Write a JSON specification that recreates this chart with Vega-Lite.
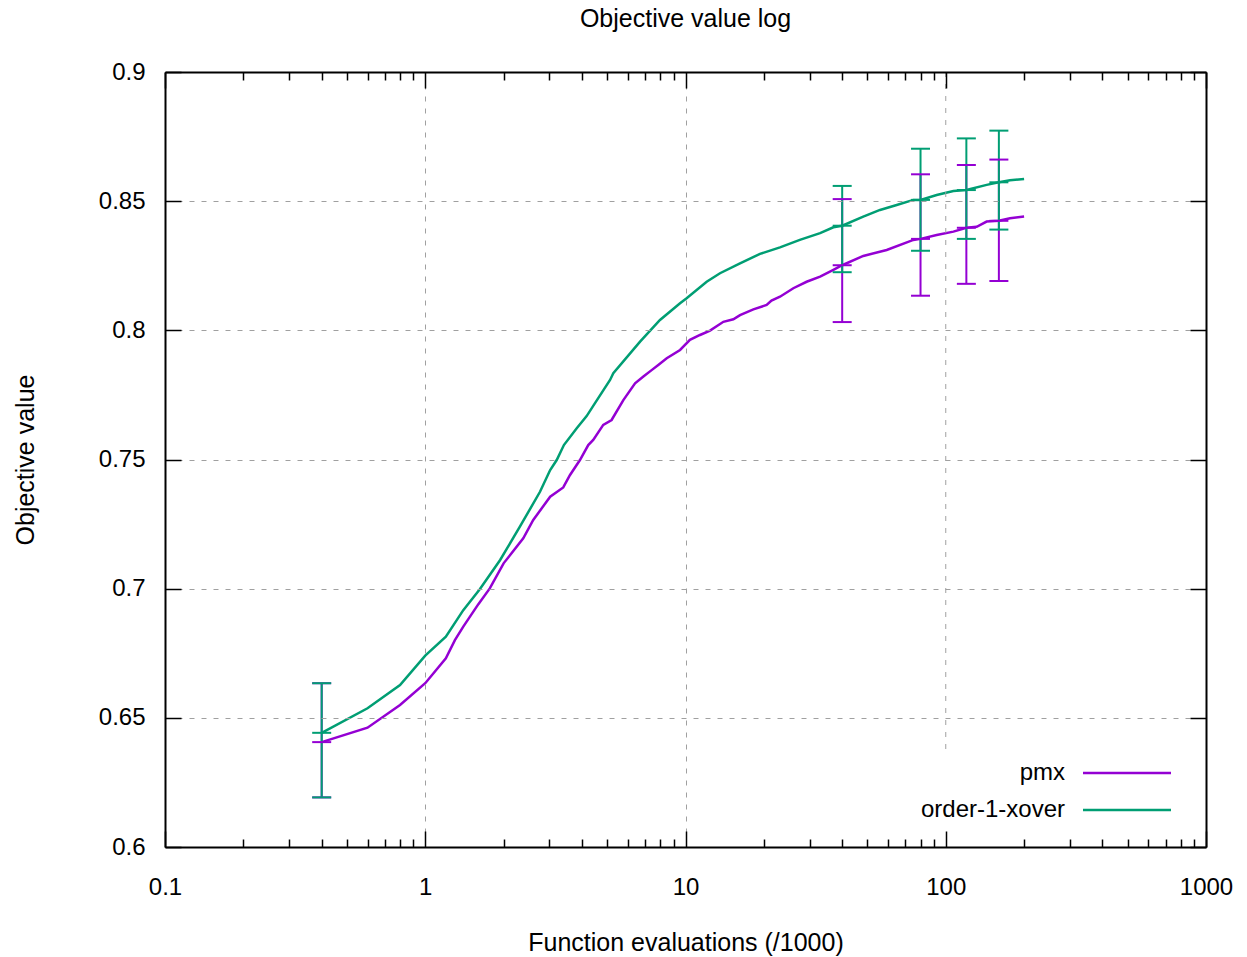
{
  "$schema": "https://vega.github.io/schema/vega-lite/v6.json",
  "width": 1041,
  "height": 775,
  "autosize": {"type": "none"},
  "padding": {"left": 165, "top": 72, "right": 41, "bottom": 110},
  "background": "white",
  "title": {"text": "Objective value log", "fontSize": 25, "font": "Liberation Sans", "fontWeight": "normal", "anchor": "middle", "baseline": "alphabetic", "offset": 42, "dy": 34, "frame": "group", "color": "black"},
  "config": {
    "font": "Liberation Sans",
    "view": {"stroke": null},
    "axis": {"labelFont": "Liberation Sans", "labelFontSize": 24, "labelColor": "black", "titleFont": "Liberation Sans", "titleFontSize": 25, "titleFontWeight": "normal", "titleColor": "black", "tickColor": "black", "tickWidth": 1.5, "domain": true, "domainColor": "black", "domainWidth": 2, "gridColor": "#a0a0a0", "gridDash": [5, 7], "gridWidth": 1}
  },
  "datasets": {
    "lines": [
      {"series": "pmx", "x": 0.4, "y": 0.6406},
      {"series": "pmx", "x": 0.6, "y": 0.6462},
      {"series": "pmx", "x": 0.8, "y": 0.655},
      {"series": "pmx", "x": 1.0, "y": 0.6634},
      {"series": "pmx", "x": 1.2, "y": 0.673},
      {"series": "pmx", "x": 1.3, "y": 0.6801},
      {"series": "pmx", "x": 1.4, "y": 0.6853},
      {"series": "pmx", "x": 1.6, "y": 0.6940},
      {"series": "pmx", "x": 1.77, "y": 0.7001},
      {"series": "pmx", "x": 2.0, "y": 0.7098},
      {"series": "pmx", "x": 2.38, "y": 0.7195},
      {"series": "pmx", "x": 2.6, "y": 0.7266},
      {"series": "pmx", "x": 3.02, "y": 0.7356},
      {"series": "pmx", "x": 3.39, "y": 0.7392},
      {"series": "pmx", "x": 3.6, "y": 0.744},
      {"series": "pmx", "x": 3.93, "y": 0.7498},
      {"series": "pmx", "x": 4.23, "y": 0.7556},
      {"series": "pmx", "x": 4.42, "y": 0.7576},
      {"series": "pmx", "x": 4.83, "y": 0.7634},
      {"series": "pmx", "x": 5.2, "y": 0.7653},
      {"series": "pmx", "x": 5.77, "y": 0.773},
      {"series": "pmx", "x": 6.4, "y": 0.7795},
      {"series": "pmx", "x": 6.89, "y": 0.7821},
      {"series": "pmx", "x": 7.41, "y": 0.7846},
      {"series": "pmx", "x": 7.86, "y": 0.7866},
      {"series": "pmx", "x": 8.47, "y": 0.7892},
      {"series": "pmx", "x": 9.53, "y": 0.7924},
      {"series": "pmx", "x": 10.4, "y": 0.7963},
      {"series": "pmx", "x": 11.37, "y": 0.7982},
      {"series": "pmx", "x": 12.42, "y": 0.7999},
      {"series": "pmx", "x": 13.98, "y": 0.8033},
      {"series": "pmx", "x": 15.27, "y": 0.8043},
      {"series": "pmx", "x": 16.2, "y": 0.8059},
      {"series": "pmx", "x": 18.23, "y": 0.8081},
      {"series": "pmx", "x": 20.5, "y": 0.8098},
      {"series": "pmx", "x": 21.4, "y": 0.8115},
      {"series": "pmx", "x": 23.07, "y": 0.813},
      {"series": "pmx", "x": 25.96, "y": 0.8163},
      {"series": "pmx", "x": 29.2, "y": 0.8188},
      {"series": "pmx", "x": 32.9, "y": 0.8208},
      {"series": "pmx", "x": 37.0, "y": 0.8234},
      {"series": "pmx", "x": 40, "y": 0.8252},
      {"series": "pmx", "x": 48.2, "y": 0.8288},
      {"series": "pmx", "x": 59.3, "y": 0.8311},
      {"series": "pmx", "x": 75.1, "y": 0.835},
      {"series": "pmx", "x": 80, "y": 0.8354},
      {"series": "pmx", "x": 92.3, "y": 0.8369},
      {"series": "pmx", "x": 107, "y": 0.8382},
      {"series": "pmx", "x": 120, "y": 0.8397},
      {"series": "pmx", "x": 131.5, "y": 0.8401},
      {"series": "pmx", "x": 143.6, "y": 0.8421},
      {"series": "pmx", "x": 160, "y": 0.8424},
      {"series": "pmx", "x": 176.6, "y": 0.8434},
      {"series": "pmx", "x": 200, "y": 0.8441},
      {"series": "order-1-xover", "x": 0.4, "y": 0.6442},
      {"series": "order-1-xover", "x": 0.6, "y": 0.6537},
      {"series": "order-1-xover", "x": 0.8, "y": 0.6627},
      {"series": "order-1-xover", "x": 1.0, "y": 0.6741},
      {"series": "order-1-xover", "x": 1.2, "y": 0.6814},
      {"series": "order-1-xover", "x": 1.4, "y": 0.6917},
      {"series": "order-1-xover", "x": 1.62, "y": 0.6998},
      {"series": "order-1-xover", "x": 1.94, "y": 0.7111},
      {"series": "order-1-xover", "x": 2.31, "y": 0.724},
      {"series": "order-1-xover", "x": 2.76, "y": 0.7375},
      {"series": "order-1-xover", "x": 3.02, "y": 0.7459},
      {"series": "order-1-xover", "x": 3.2, "y": 0.7498},
      {"series": "order-1-xover", "x": 3.41, "y": 0.7556},
      {"series": "order-1-xover", "x": 3.82, "y": 0.7621},
      {"series": "order-1-xover", "x": 4.17, "y": 0.7668},
      {"series": "order-1-xover", "x": 4.49, "y": 0.7718},
      {"series": "order-1-xover", "x": 5.13, "y": 0.7808},
      {"series": "order-1-xover", "x": 5.28, "y": 0.7834},
      {"series": "order-1-xover", "x": 6.69, "y": 0.7956},
      {"series": "order-1-xover", "x": 7.98, "y": 0.804},
      {"series": "order-1-xover", "x": 9.53, "y": 0.8105},
      {"series": "order-1-xover", "x": 10.1, "y": 0.8124},
      {"series": "order-1-xover", "x": 12.06, "y": 0.8188},
      {"series": "order-1-xover", "x": 13.57, "y": 0.8221},
      {"series": "order-1-xover", "x": 16.2, "y": 0.8259},
      {"series": "order-1-xover", "x": 19.33, "y": 0.8296},
      {"series": "order-1-xover", "x": 23.07, "y": 0.8321},
      {"series": "order-1-xover", "x": 27.5, "y": 0.835},
      {"series": "order-1-xover", "x": 32.9, "y": 0.8376},
      {"series": "order-1-xover", "x": 37.0, "y": 0.8399},
      {"series": "order-1-xover", "x": 40, "y": 0.8405},
      {"series": "order-1-xover", "x": 48.2, "y": 0.844},
      {"series": "order-1-xover", "x": 55.9, "y": 0.8466},
      {"series": "order-1-xover", "x": 64.8, "y": 0.8485},
      {"series": "order-1-xover", "x": 75.1, "y": 0.8505},
      {"series": "order-1-xover", "x": 80, "y": 0.8505},
      {"series": "order-1-xover", "x": 92.3, "y": 0.8524},
      {"series": "order-1-xover", "x": 107, "y": 0.8539},
      {"series": "order-1-xover", "x": 120, "y": 0.8543},
      {"series": "order-1-xover", "x": 143.6, "y": 0.8563},
      {"series": "order-1-xover", "x": 160, "y": 0.8573},
      {"series": "order-1-xover", "x": 176.6, "y": 0.8581},
      {"series": "order-1-xover", "x": 200, "y": 0.8586}
    ],
    "errs": [
      {"series": "pmx", "x": 0.4, "lo": 0.6192, "mean": 0.6406, "hi": 0.6634},
      {"series": "pmx", "x": 40, "lo": 0.8032, "mean": 0.8252, "hi": 0.8508},
      {"series": "pmx", "x": 80, "lo": 0.8134, "mean": 0.8354, "hi": 0.8604},
      {"series": "pmx", "x": 120, "lo": 0.818, "mean": 0.8397, "hi": 0.864},
      {"series": "pmx", "x": 160, "lo": 0.8191, "mean": 0.8424, "hi": 0.8661},
      {"series": "order-1-xover", "x": 0.4, "lo": 0.6192, "mean": 0.6442, "hi": 0.6634},
      {"series": "order-1-xover", "x": 40, "lo": 0.8225, "mean": 0.8405, "hi": 0.8559},
      {"series": "order-1-xover", "x": 80, "lo": 0.8308, "mean": 0.8505, "hi": 0.8703},
      {"series": "order-1-xover", "x": 120, "lo": 0.8354, "mean": 0.8543, "hi": 0.8743},
      {"series": "order-1-xover", "x": 160, "lo": 0.839, "mean": 0.8573, "hi": 0.8773}
    ],
    "gridcut": [
      {"gx": 100, "top": 0.9, "bottom": 0.6368}
    ]
  },
  "layer": [
    {
      "data": {"name": "lines"},
      "mark": {"type": "line", "strokeWidth": 2.5, "opacity": 1},
      "encoding": {
        "x": {"field": "x", "type": "quantitative",
          "scale": {"type": "log", "domain": [0.1, 1000], "nice": false},
          "axis": {"orient": "bottom", "zindex": 1, "grid": true, "title": "Function evaluations (/1000)", "titleBaseline": "alphabetic", "titleY": 103,
            "values": [0.1, 0.2, 0.3, 0.4, 0.5, 0.6, 0.7, 0.8, 0.9, 1, 2, 3, 4, 5, 6, 7, 8, 9, 10, 20, 30, 40, 50, 60, 70, 80, 90, 100, 200, 300, 400, 500, 600, 700, 800, 900, 1000],
            "labelExpr": "abs(log(datum.value)/LN10 - round(log(datum.value)/LN10)) < 0.001 ? format(datum.value, '~g') : ''",
            "labelOverlap": false, "labelFlush": false, "labelBaseline": "alphabetic", "labelPadding": 63,
            "tickSize": {"condition": {"test": "abs(log(datum.value)/LN10 - round(log(datum.value)/LN10)) < 0.001", "value": -16}, "value": -8},
            "gridOpacity": {"condition": {"test": "abs(log(datum.value)/LN10 - round(log(datum.value)/LN10)) < 0.001 && datum.value != 100", "value": 1}, "value": 0}
          }
        },
        "y": {"field": "y", "type": "quantitative",
          "scale": {"domain": [0.6, 0.9], "zero": false, "nice": false},
          "axis": {"orient": "left", "zindex": 1, "grid": true, "title": "Objective value", "titleBaseline": "alphabetic", "titleX": -132,
            "values": [0.6, 0.65, 0.7, 0.75, 0.8, 0.85, 0.9], "format": "~g", "labelPadding": 36, "tickSize": -16}
        },
        "color": {"field": "series", "type": "nominal",
          "scale": {"domain": ["pmx", "order-1-xover"], "range": ["#9400d3", "#009e73"]},
          "legend": {"orient": "none", "legendX": 911, "legendY": 689, "padding": 0, "title": null,
            "symbolType": "M-8.8,0H8.8", "symbolSize": 100, "symbolStrokeWidth": 2.5, "symbolOffset": 39, "rowPadding": 13,
            "labelAlign": "right", "labelOffset": -74, "labelFontSize": 24, "labelFont": "Liberation Sans", "labelColor": "black", "labelLimit": 400}
        }
      }
    },
    {
      "data": {"name": "gridcut"},
      "mark": {"type": "rule", "color": "#a0a0a0", "strokeWidth": 1, "strokeDash": [5, 7]},
      "encoding": {
        "x": {"field": "gx", "type": "quantitative", "axis": null},
        "y": {"field": "top", "type": "quantitative", "axis": null},
        "y2": {"field": "bottom"}
      }
    },
    {
      "data": {"name": "errs"},
      "mark": {"type": "rule", "strokeWidth": 2, "opacity": 1},
      "encoding": {
        "x": {"field": "x", "type": "quantitative",
          "axis": {"orient": "top", "zindex": 1, "title": null, "labels": false, "grid": false,
            "values": [0.1, 0.2, 0.3, 0.4, 0.5, 0.6, 0.7, 0.8, 0.9, 1, 2, 3, 4, 5, 6, 7, 8, 9, 10, 20, 30, 40, 50, 60, 70, 80, 90, 100, 200, 300, 400, 500, 600, 700, 800, 900, 1000],
            "tickSize": {"condition": {"test": "abs(log(datum.value)/LN10 - round(log(datum.value)/LN10)) < 0.001", "value": -16}, "value": -8}
          }
        },
        "y": {"field": "lo", "type": "quantitative",
          "axis": {"orient": "right", "zindex": 1, "title": null, "labels": false, "grid": false, "values": [0.6, 0.65, 0.7, 0.75, 0.8, 0.85, 0.9], "tickSize": -16}
        },
        "y2": {"field": "hi"},
        "color": {"field": "series", "type": "nominal"}
      }
    },
    {
      "data": {"name": "errs"},
      "mark": {"type": "rule", "strokeWidth": 2, "opacity": 1, "xOffset": -9.5, "x2Offset": 9.5},
      "encoding": {
        "x": {"field": "x", "type": "quantitative", "axis": null},
        "x2": {"field": "x"},
        "y": {"field": "lo", "type": "quantitative", "axis": null},
        "color": {"field": "series", "type": "nominal"}
      }
    },
    {
      "data": {"name": "errs"},
      "mark": {"type": "rule", "strokeWidth": 2, "opacity": 1, "xOffset": -9.5, "x2Offset": 9.5},
      "encoding": {
        "x": {"field": "x", "type": "quantitative", "axis": null},
        "x2": {"field": "x"},
        "y": {"field": "hi", "type": "quantitative", "axis": null},
        "color": {"field": "series", "type": "nominal"}
      }
    },
    {
      "data": {"name": "errs"},
      "mark": {"type": "rule", "strokeWidth": 2, "opacity": 1, "xOffset": -9.5, "x2Offset": 9.5},
      "encoding": {
        "x": {"field": "x", "type": "quantitative", "axis": null},
        "x2": {"field": "x"},
        "y": {"field": "mean", "type": "quantitative", "axis": null},
        "color": {"field": "series", "type": "nominal"}
      }
    }
  ],
  "resolve": {"axis": {"x": "independent", "y": "independent"}}
}
